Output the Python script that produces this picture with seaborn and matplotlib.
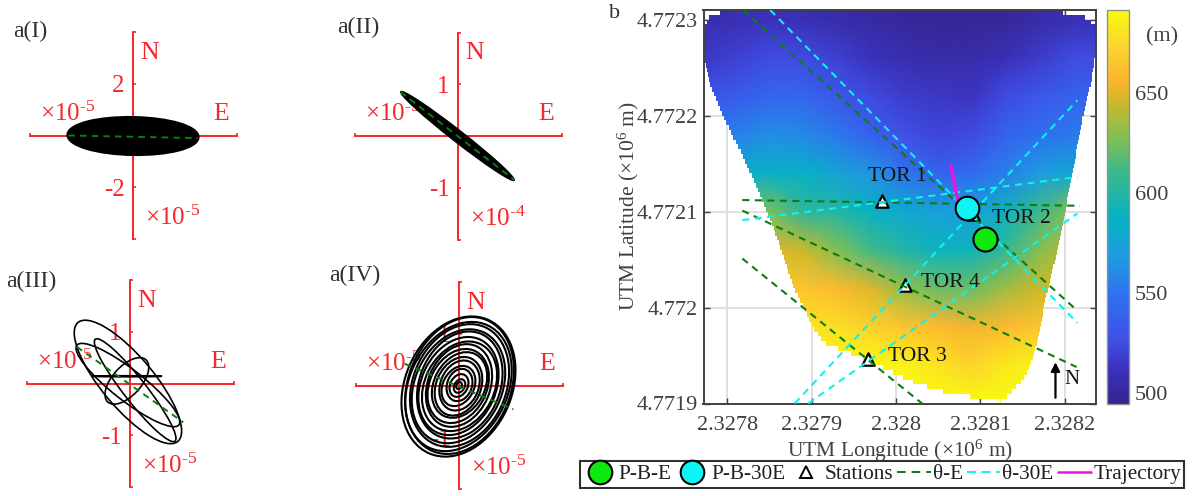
import numpy as np
import matplotlib
matplotlib.use("Agg")
import matplotlib.pyplot as plt
from matplotlib.colors import LinearSegmentedColormap
from matplotlib.lines import Line2D
from matplotlib.patches import Ellipse, PathPatch
from matplotlib.path import Path
import seaborn as sns

sns.set_style("ticks")
plt.rcParams['font.family'] = ['Liberation Serif', 'DejaVu Serif']
plt.rcParams['mathtext.fontset'] = 'custom'
plt.rcParams['mathtext.rm'] = 'Liberation Serif'
plt.rcParams['mathtext.it'] = 'Liberation Serif'

W, H = 1195, 496
RED = '#f8272b'
DARK = '#404040'
GREEN_DASH = '#0b7d12'
CYAN_DASH = '#10f0f0'
DASHES = (0, (3.4, 2.6))

# elevation surface (m), bottom row first
lon_nodes = [2.32777, 2.32781, 2.32785, 2.32789, 2.32793, 2.32797, 2.32801,
             2.32805, 2.32809, 2.32813, 2.32817, 2.32821, 2.32825]
lat_nodes = [4.7719, 4.77194, 4.77198, 4.77202, 4.77206, 4.7721, 4.77214,
             4.77218, 4.77222, 4.77226, 4.7723, 4.77232]
elevation = [
    [691, 691, 691, 691, 691, 691, 691, 691, 691, 691, 691, 691, 691],
    [691, 691, 691, 691, 691, 690, 687, 680, 673, 683, 688, 688, 688],
    [680, 680, 680, 680, 678, 672, 665, 660, 655, 660, 665, 665, 665],
    [668, 668, 668, 665, 660, 650, 632, 622, 622, 635, 645, 650, 650],
    [650, 650, 650, 645, 628, 612, 598, 590, 592, 607, 628, 642, 642],
    [630, 630, 625, 605, 600, 588, 580, 572, 570, 590, 610, 630, 630],
    [585, 585, 585, 587, 575, 565, 550, 540, 545, 555, 568, 578, 578],
    [555, 555, 562, 560, 552, 540, 528, 522, 525, 540, 548, 552, 552],
    [530, 535, 542, 542, 532, 525, 518, 515, 514, 525, 532, 540, 540],
    [515, 520, 525, 525, 520, 512, 508, 505, 505, 510, 518, 525, 525],
    [507, 510, 512, 510, 506, 503, 500, 498, 498, 500, 505, 510, 510],
    [507, 510, 512, 510, 506, 503, 500, 498, 498, 500, 505, 510, 510],
]

# outline of the surveyed area
edge_lat = [4.7719, 4.771905, 4.77191, 4.771919, 4.771929, 4.771945, 4.771961,
            4.771978, 4.771999, 4.772016, 4.77206, 4.772086, 4.772151, 4.772195,
            4.772235, 4.772268, 4.772291, 4.7723, 4.772305, 4.77231]
edge_west = [2.328123, 2.328088, 2.328056, 2.328022, 2.327999, 2.327961, 2.327914,
             2.327901, 2.32789, 2.32788, 2.327863, 2.327853, 2.327821, 2.327796,
             2.327778, 2.327772, 2.327774, 2.327778, 2.327792, 2.327807]
edge_east = [2.328124, 2.328131, 2.328137, 2.328147, 2.328155, 2.328162, 2.328167,
             2.328172, 2.328175, 2.32818, 2.328192, 2.328198, 2.328212, 2.328221,
             2.328232, 2.328237, 2.328237, 2.328224, 2.328198, 2.328072]

theta_e = [([2.327818, 2.328218], [4.772112, 4.772106]),
           ([2.327819, 2.328212], [4.77231, 4.771999]),
           ([2.327818, 2.328214], [4.772101, 4.771938]),
           ([2.327818, 2.328031], [4.772051, 4.7719])]
theta_30e = [([2.327851, 2.328215], [4.77231, 4.771984]),
             ([2.327818, 2.328215], [4.772091, 4.772136]),
             ([2.32788, 2.328215], [4.7719, 4.772216]),
             ([2.327896, 2.328215], [4.7719, 4.772098])]
traj_lon = [2.328065, 2.328073]
traj_lat = [4.772148, 4.772112]
station_lon = [2.327983, 2.328091, 2.328011, 2.327967]
station_lat = [4.772111, 4.772097, 4.772023, 4.771946]
station_names = ['TOR 1', 'TOR 2', 'TOR 4', 'TOR 3']
name_lon = [2.328002, 2.328149, 2.328065, 2.328025]
name_lat = [4.772136, 4.772093, 4.772026, 4.771949]
pbe_lon, pbe_lat = [2.328106], [4.772071]
pb30_lon, pb30_lat = [2.328084], [4.772104]

# particle motion panels: (centre x, centre y, semi major, semi minor, angle)
ell_i = [(0, -0.02, 2.48, 0.68, -1)]
ell_ii = [(-0.01, 0, 1.39, 0.11, -38)]
ell_iii = [(-0.04, 0.03, 1.5, 0.5, -50), (-0.04, -0.03, 1.25, 0.3, -38),
           (-0.06, 0.05, 0.55, 0.28, 48), (0.1, -0.13, 1.25, 0.22, -52),
           (-0.06, 0.14, 0.68, 0.01, 0)]
iv_major = [1.41, 1.37, 1.31, 1.23, 1.15, 1.07, 0.99, 0.91, 0.83, 0.75, 0.67, 0.59, 0.5, 0.41, 0.32, 0.23, 0.14, 0.07]
iv_minor = [1.03, 0.99, 0.95, 0.9, 0.84, 0.78, 0.72, 0.67, 0.6, 0.55, 0.49, 0.43, 0.37, 0.3, 0.24, 0.17, 0.1, 0.05]
iv_shift_x = [-0.01, 0.01, -0.01, 0.01, -0.01, 0.015, -0.01, 0.01, 0.0, -0.015, 0.01, -0.01, 0.01, -0.01, 0.01, 0.0, 0.01, 0.0]
iv_shift_y = [-0.02, 0.0, -0.02, 0.0, -0.015, 0.01, -0.01, -0.015, 0.0, -0.01, 0.01, -0.015, 0.0, -0.01, 0.01, 0.0, -0.01, 0.0]
iv_angle = [66, 68, 64, 67, 65, 68, 65, 63, 67, 64, 62, 66, 68, 62, 70, 64, 60, 60]
ell_iv = list(zip(iv_shift_x, iv_shift_y, iv_major, iv_minor, iv_angle))

panels = [
    ('a(I)', (30, 31), (133, 135.5), 4, 2, '-5', '-5', ell_i, ([-2.5, 2.5], [0.0, -0.1]), 3.5),
    ('a(II)', (358, 27), (458, 136), 2, 1, '-5', '-4', ell_ii, ([-1.11, 1.09], [0.85, -0.85]), 1),
    ('a(III)', (31, 281), (130, 383.5), 2, 1, '-5', '-5', ell_iii, ([-1.03, 1.03], [0.71, -0.75]), 1.2),
    ('a(IV)', (355, 275), (459, 385.5), 2, 1, '-5', '-5', ell_iv, ([-1.05, 1.05], [0.42, -0.46]), 1.5),
]

fig = plt.figure(figsize=(W / 100, H / 100), dpi=100)

# --- left hand hodographs ---
half = 103.5
for name, lab_xy, (cx, cy), lim, tick, exp_left, exp_bottom, ells, dash, lw in panels:
    ax = fig.add_axes([(cx - half) / W, 1 - (cy + half) / H, 2 * half / W, 2 * half / H])
    ax.patch.set_alpha(0)
    ax.set_xlim(-lim, lim)
    ax.set_ylim(-lim, lim)
    for side in ['top', 'right']:
        ax.spines[side].set_visible(False)
    for side in ['left', 'bottom']:
        ax.spines[side].set_position('zero')
        ax.spines[side].set_color(RED)
        ax.spines[side].set_linewidth(1.4)
    ax.set_xticks([-lim, lim], ['', ''])
    ax.set_yticks([-lim, -tick, tick, lim], ['', f'-{tick}', f'{tick}', ''])
    ax.tick_params(direction='in', length=2.5, width=1.2, color=RED, labelcolor=RED,
                   labelsize=18, pad=6)
    for x, y, a, b, ang in ells:
        filled = name in ('a(I)', 'a(II)')
        ax.add_patch(Ellipse((x, y), 2 * a, 2 * b, angle=ang, fc='black' if filled else 'none',
                             ec='black', lw=lw, zorder=3))
    sns.lineplot(x=dash[0], y=dash[1], color=GREEN_DASH, linestyle=DASHES, linewidth=1.4,
                 estimator=None, sort=False, ax=ax, zorder=4)
    ax.set_xlabel('')
    ax.set_ylabel('')
    ax.text(0.165 * lim, 0.8 * lim, 'N', color=RED, fontsize=18.5, ha='center', va='center')
    ax.text(0.85 * lim, 0.21 * lim, 'E', color=RED, fontsize=18.5, ha='center', va='center')
    ax.text(-0.63 * lim, 0.21 * lim, r'×10$^{\text{' + exp_left + '}}$', color=RED, fontsize=18,
            ha='center', va='center', zorder=1)
    ax.text(0.38 * lim, -0.8 * lim, r'×10$^{\text{' + exp_bottom + '}}$', color=RED, fontsize=18,
            ha='center', va='center')
    fig.text(lab_xy[0] / W, 1 - lab_xy[1] / H, name, color='#303030', fontsize=17, ha='center', va='center')

# --- elevation map ---
cmap = LinearSegmentedColormap.from_list('surface', [
    (0.0, '#35258f'), (0.08, '#3a30b8'), (0.165, '#4050e8'), (0.27, '#2f6ff0'),
    (0.37, '#1e9be0'), (0.47, '#06b2c4'), (0.59, '#3cb98a'), (0.675, '#80bf55'),
    (0.76, '#c8b82a'), (0.825, '#fdb52f'), (0.9, '#fcd030'), (1.0, '#f9fb0e')])

ax_map = fig.add_axes([703.5 / W, 1 - 403.5 / H, 392.5 / W, 393.5 / H])
ax_map.grid(True, color='#dadada', linewidth=1.2)
ax_map.set_axisbelow(True)
mesh = ax_map.pcolormesh(lon_nodes, lat_nodes, np.array(elevation), shading='gouraud',
                         cmap=cmap, vmin=495, vmax=691.5, zorder=1)

# stair stepped outline, same look as the gridded original
fine_lat = np.arange(edge_lat[0], edge_lat[-1] + 1e-7, 5e-6)
fine_west = np.interp(fine_lat, edge_lat, edge_west)
fine_east = np.interp(fine_lat, edge_lat, edge_east)
west_pts = [(x, y) for w, y0 in zip(fine_west, fine_lat) for x, y in ((w, y0), (w, y0 + 5e-6))]
east_pts = [(x, y) for e, y0 in zip(fine_east, fine_lat) for x, y in ((e, y0), (e, y0 + 5e-6))]
outline = west_pts + east_pts[::-1]
clip = PathPatch(Path(outline + [outline[0]]), transform=ax_map.transData, fc='none', ec='none')
ax_map.add_patch(clip)
mesh.set_clip_path(clip)

for lon, lat in theta_e:
    sns.lineplot(x=lon, y=lat, color=GREEN_DASH, linestyle=DASHES, linewidth=1.5,
                 estimator=None, sort=False, ax=ax_map, zorder=3)
for lon, lat in theta_30e:
    sns.lineplot(x=lon, y=lat, color=CYAN_DASH, linestyle=DASHES, linewidth=1.5,
                 estimator=None, sort=False, ax=ax_map, zorder=3)
sns.scatterplot(x=station_lon, y=station_lat, marker='^', s=80, color='white', edgecolor='black',
                linewidth=1.6, ax=ax_map, zorder=2, legend=False)
sns.lineplot(x=traj_lon, y=traj_lat, color='#f010e0', linewidth=2.4, estimator=None, sort=False,
             ax=ax_map, zorder=4)
sns.scatterplot(x=pbe_lon, y=pbe_lat, s=300, color='#0fe80f', edgecolor='black', linewidth=1.5,
                ax=ax_map, zorder=5, legend=False)
sns.scatterplot(x=pb30_lon, y=pb30_lat, s=290, color='#0ff5f5', edgecolor='black', linewidth=1.5,
                ax=ax_map, zorder=5, legend=False)

for nm, x, y in zip(station_names, name_lon, name_lat):
    ax_map.text(x, y, nm, fontsize=15.5, color='#151515', ha='center', va='center', zorder=6)
ax_map.annotate('', xy=(2.328189, 4.771943), xytext=(2.328189, 4.771906),
                arrowprops=dict(arrowstyle='-|>', color='black', lw=1.6, mutation_scale=13,
                                shrinkA=0, shrinkB=0), zorder=6)
ax_map.text(2.328208, 4.771925, 'N', fontsize=15, color='#151515', ha='center', va='center', zorder=6)

ax_map.set_xlim(2.327772, 2.328237)
ax_map.set_ylim(4.7719, 4.77231)
ax_map.set_xticks([2.3278, 2.3279, 2.328, 2.3281, 2.3282],
                  ['2.3278', '2.3279', '2.328', '2.3281', '2.3282'])
ax_map.set_yticks([4.7719, 4.772, 4.7721, 4.7722, 4.7723],
                  ['4.7719', '4.772', '4.7721', '4.7722', '4.7723'])
ax_map.tick_params(direction='in', length=4, width=1, color=DARK, labelcolor=DARK, labelsize=16,
                   top=True, right=True)
ax_map.tick_params(axis='x', pad=9)
ax_map.tick_params(axis='y', pad=4)
for side in ax_map.spines.values():
    side.set_color(DARK)
    side.set_linewidth(1.4)
ax_map.set_xlabel(r'UTM Longitude (×10$^{6}$ m)', fontsize=15.5, color=DARK, labelpad=2)
ax_map.set_ylabel(r'UTM Latitude (×10$^{6}$ m)', fontsize=15.5, color=DARK, labelpad=-3)
fig.text(615 / W, 1 - 13 / H, 'b', fontsize=16, color='#303030', ha='center', va='center')

# colour bar
cax = fig.add_axes([1107 / W, 1 - 403.5 / H, 22 / W, 393.5 / H])
cbar = fig.colorbar(mesh, cax=cax)
cbar.set_ticks([500, 550, 600, 650])
cax.tick_params(direction='in', length=4, width=1, color=DARK, labelcolor=DARK, labelsize=16, pad=4)
cbar.outline.set_edgecolor('#909090')
cbar.outline.set_linewidth(1)
fig.text(1162 / W, 1 - 37 / H, '(m)', fontsize=16, color=DARK, ha='center', va='center')

# legend
handles = [
    Line2D([], [], ls='none', marker='o', ms=17, mfc='#0fe80f', mec='black', mew=1.5),
    Line2D([], [], ls='none', marker='o', ms=17, mfc='#0ff5f5', mec='black', mew=1.5),
    Line2D([], [], ls='none', marker='^', ms=9, mfc='white', mec='black', mew=1.4),
    Line2D([], [], color=GREEN_DASH, ls=(0, (4.5, 3)), lw=1.4),
    Line2D([], [], color=CYAN_DASH, ls=(0, (4.5, 3)), lw=1.4),
    Line2D([], [], color='#f010e0', lw=1.8),
]
leg = fig.legend(handles, ['P-B-E', 'P-B-30E', 'Stations', 'θ-E', 'θ-30E', 'Trajectory'],
                 loc='center', bbox_to_anchor=(882 / W, 1 - 474.5 / H), ncol=6, fontsize=15.3,
                 frameon=True, fancybox=False, edgecolor='#303030', framealpha=1,
                 handlelength=1.56, handletextpad=0.1, columnspacing=0.2, borderpad=0.15,
                 borderaxespad=0)
leg.get_frame().set_linewidth(1.5)
for t in leg.get_texts():
    t.set_color('#202020')

plt.savefig('out.png', dpi=100)
